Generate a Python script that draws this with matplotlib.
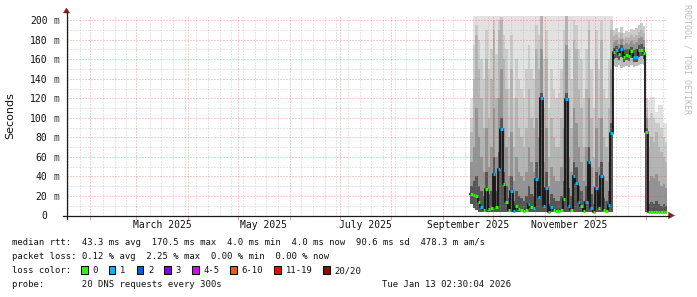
import numpy as np
import matplotlib
matplotlib.use("Agg")
import matplotlib.pyplot as plt
import matplotlib.dates as mdates
import matplotlib.transforms as mtransforms
from matplotlib.lines import Line2D
from matplotlib.patches import Polygon, Rectangle
from datetime import datetime, timedelta

# ---------------- data ----------------
end_time = datetime(2026, 1, 13, 2, 30, 4)
range_days = 360
sample_start = datetime(2025, 9, 17, 12, 0)
step_days = 1.5

median_ms = [22, 21, 20, 14, 8.5, 6, 27, 7, 7.5, 43, 8.5, 48, 89, 32, 14, 6, 25, 5, 10, 7,
             6, 5, 6, 12, 9, 8, 37, 19, 120, 10, 28, 4, 8.5, 6, 5, 5, 6, 17, 119, 10,
             6, 40, 33, 14, 10, 5, 14, 55, 8, 4, 28, 8, 40, 6, 5, 11, 84,
             167, 169, 165.5, 170.5, 162, 164.5, 163, 168, 162, 162, 169, 169.5, 166,
             85, 4, 4, 4, 4, 4, 4, 4, 4]
loss_idx = [0, 0, 0, 0, 1, 0, 0, 0, 0, 1, 0, 1, 1, 0, 0, 0, 1, 1, 0, 0,
            0, 0, 0, 1, 0, 1, 1, 1, 1, 1, 1, 0, 1, 0, 0, 0, 0, 0, 1, 1,
            0, 1, 1, 1, 0, 0, 1, 1, 1, 0, 1, 0, 1, 0, 0, 1, 1,
            0, 1, 0, 1, 0, 0, 0, 0, 1, 1, 0, 0, 0,
            0, 0, 0, 0, 0, 0, 0, 0, 0]
smoke_min = [12, 8, 6] + [3.5] * 54 + \
            [153, 152, 154, 151, 152, 153, 152, 154, 152, 153, 154, 155, 154] + \
            [3.5] + [3.3] * 8
smoke_lo = [12, 8, 6] + [3.5] * 54 + \
           [160, 161, 159, 162, 157, 159, 158, 161, 157, 157, 162, 163, 160] + \
           [3.5] + [3.5] * 8
smoke_d1 = [30, 35, 40, 30, 25, 20, 45, 22, 25, 60, 25, 65, 100, 45, 30, 18, 40, 15, 25, 20,
            18, 15, 20, 30, 22, 20, 55, 35, 125, 25, 45, 12, 22, 18, 15, 15, 20, 35, 125, 28,
            20, 55, 50, 30, 25, 15, 30, 70, 22, 12, 45, 22, 55, 18, 15, 25, 95,
            172, 174, 171, 175, 169, 171, 170, 173, 169, 170, 175, 176, 173,
            90, 12, 14, 12, 15, 12, 10, 12, 10]
smoke_d2 = [55, 70, 110, 80, 60, 45, 90, 50, 70, 110, 60, 120, 150, 90, 70, 40, 85, 35, 60, 45,
            40, 35, 45, 70, 55, 45, 100, 80, 170, 55, 90, 30, 50, 40, 35, 35, 50, 90, 175, 60,
            45, 110, 95, 70, 55, 35, 70, 120, 50, 30, 90, 50, 100, 40, 35, 55, 150,
            178, 180, 176, 181, 175, 177, 176, 179, 176, 178, 182, 183, 180,
            100, 35, 40, 38, 42, 35, 30, 32, 28]
smoke_d3 = [85, 140, 185, 150, 120, 90, 160, 100, 140, 190, 120, 190, 200, 160, 130, 80, 150, 70, 120, 90,
            80, 70, 90, 130, 100, 90, 170, 150, 205, 110, 160, 60, 100, 80, 70, 70, 100, 160, 205, 120,
            90, 180, 170, 130, 110, 70, 130, 190, 100, 60, 160, 100, 180, 80, 70, 110, 190,
            184, 186, 182, 187, 181, 183, 182, 185, 183, 185, 188, 190, 187,
            110, 70, 80, 75, 85, 70, 65, 60, 55]
smoke_d4 = [100, 175, 195, 180, 160, 140, 190, 150, 170, 200, 165, 200, 203, 185, 170, 130, 185, 120, 160, 140,
            130, 120, 150, 175, 150, 140, 195, 185, 205, 160, 190, 110, 150, 130, 120, 125, 150, 190, 205, 170,
            140, 200, 195, 170, 160, 120, 170, 200, 150, 110, 190, 150, 200, 130, 120, 160, 200,
            190, 192, 188, 193, 187, 189, 188, 191, 190, 192, 195, 197, 194,
            120, 100, 105, 100, 95, 95, 90, 80, 75]
smoke_top = [120] + [205] * 56 + \
            [190, 192, 188, 193, 187, 189, 188, 191, 190, 192, 195, 197, 194] + \
            [120, 118, 121, 121, 106, 113, 113, 95, 95]

loss_labels = ["0", "1", "2", "3", "4-5", "6-10", "11-19", "20/20"]
loss_colors = ["#26ff00", "#00b8ff", "#0059ff", "#7e00ff", "#dd00ff", "#ff5500", "#ff0000", "#a10000"]

y_tick_values = [0, 20, 40, 60, 80, 100, 120, 140, 160, 180, 200]
y_tick_labels = ["0", "20 m", "40 m", "60 m", "80 m", "100 m", "120 m", "140 m", "160 m", "180 m", "200 m"]
y_max = 204.8
month_labels = ["March 2025", "May 2025", "July 2025", "September 2025", "November 2025"]
month_label_starts = [datetime(2025, 3, 1), datetime(2025, 5, 1), datetime(2025, 7, 1),
                      datetime(2025, 9, 1), datetime(2025, 11, 1)]

y_label = "Seconds"
legend_rtt = "median rtt:  43.3 ms avg  170.5 ms max  4.0 ms min  4.0 ms now  90.6 ms sd  478.3 m am/s"
legend_loss = "packet loss: 0.12 % avg  2.25 % max  0.00 % min  0.00 % now"
legend_color_title = "loss color:"
legend_probe = "probe:       20 DNS requests every 300s"
timestamp = "Tue Jan 13 02:30:04 2026"
watermark = "RRDTOOL / TOBI OETIKER"

# ---------------- figure ----------------
W, H, DPI = 697, 297, 100
fig = plt.figure(figsize=(W / DPI, H / DPI), dpi=DPI)
fig.patch.set_facecolor("white")

def fx(px):
    return px / W

def fy(py):
    return 1 - py / H

L, R, T, B = 66.5, 666.5, 15.5, 215.5
ax = fig.add_axes([fx(L), fy(B), (R - L) / W, (B - T) / H])
ax.set_facecolor("white")
for s in ax.spines.values():
    s.set_visible(False)

start_time = end_time - timedelta(days=range_days)
ax.set_xlim(mdates.date2num(start_time), mdates.date2num(end_time))
ax.set_ylim(0, y_max)

MONO = "DejaVu Sans Mono"
MGRID = (0.88, 0.30, 0.30, 0.55)
GRID = (0.62, 0.62, 0.62, 0.5)
dot = (0, (1, 2))

# grid - horizontal
for v in range(10, 201, 10):
    ax.axhline(v, color=MGRID if v % 20 == 0 else GRID, lw=0.72, ls=dot, zorder=2)

# grid - vertical: month starts (major) and Sundays (minor)
month_starts = []
d = datetime(start_time.year, start_time.month, 1)
while d <= end_time:
    if d >= start_time:
        month_starts.append(d)
    d = datetime(d.year + (d.month // 12), d.month % 12 + 1, 1)
sunday = datetime(2025, 1, 19)
while sunday <= end_time:
    if sunday >= start_time and all(abs((sunday - m).days) > 1 for m in month_starts):
        ax.axvline(mdates.date2num(sunday), color=GRID, lw=0.72, ls=dot, zorder=2)
    sunday += timedelta(days=7)
for m in month_starts:
    ax.axvline(mdates.date2num(m), color=MGRID, lw=0.72, ls=dot, zorder=2)
    ax.plot([mdates.date2num(m)] * 2, [0, -3 / 200], color=MGRID, lw=0.72,
            transform=ax.get_xaxis_transform(), clip_on=False, zorder=2)

# smoke
n = len(median_ms)
xs = mdates.date2num(sample_start) + step_days * np.arange(n)
xe = np.append(xs, xs[-1] + step_days)

def ext(a):
    a = np.asarray(a, float)
    return np.append(a, a[-1])

layers = [(smoke_min, smoke_lo, "#bcbcbc"),
          (smoke_lo, smoke_d1, "#555555"),
          (smoke_d1, smoke_d2, "#939393"),
          (smoke_d2, smoke_d3, "#b4b4b4"),
          (smoke_d3, smoke_d4, "#cbcbcb"),
          (smoke_d4, smoke_top, "#e2e2e2")]
for lo, hi, c in layers:
    ax.fill_between(xe, ext(lo), ext(hi), step="post", facecolor=c, lw=0,
                    antialiased=False, zorder=1)

# median line
ax.step(xe, ext(median_ms), where="post", color="#151515", lw=1.3, zorder=3)
ax.hlines(median_ms, xs, xs + step_days, colors=[loss_colors[k] for k in loss_idx],
          lw=2.2, zorder=4, capstyle="butt")

# x tick labels (centered in month)
label_pos = []
for m in month_label_starts:
    nxt = datetime(m.year + (m.month // 12), m.month % 12 + 1, 1)
    label_pos.append(mdates.date2num(m) + (mdates.date2num(nxt) - mdates.date2num(m)) / 2)
ax.set_xticks(label_pos)
ax.set_xticklabels(month_labels, fontfamily=MONO, fontsize=7.0, color="#111111")
ax.tick_params(axis="x", length=0, pad=12 * 0.72)
for t in ax.get_xticklabels():
    t.set_va("baseline")
ax.set_yticks([])

# y tick labels
ytr_num = ax.get_yaxis_transform() + mtransforms.ScaledTranslation(-19 / DPI, -3.8 / DPI, fig.dpi_scale_trans)
ytr_unit = ax.get_yaxis_transform() + mtransforms.ScaledTranslation(-13.2 / DPI, -3.8 / DPI, fig.dpi_scale_trans)
for v, lab in zip(y_tick_values, y_tick_labels):
    parts = lab.split(" ")
    ax.text(0, v, parts[0], transform=ytr_num, ha="right", va="baseline",
            fontfamily=MONO, fontsize=7.0, color="#111111", clip_on=False)
    if len(parts) > 1:
        ax.text(0, v, parts[1], transform=ytr_unit, ha="left", va="baseline",
                fontfamily=MONO, fontsize=7.0, color="#333333", clip_on=False)

fig.text(fx(10), fy(115.5), y_label, rotation=90, ha="center", va="center",
         fontfamily="DejaVu Sans", fontsize=8, color="#111111")

# axis lines and arrows
AX_C = "#1a1a1a"
ARROW_C = "#8f1a1a"
fig.add_artist(Line2D([fx(63), fx(669)], [fy(B), fy(B)], color=AX_C, lw=0.9))
fig.add_artist(Line2D([fx(L), fx(L)], [fy(218.5), fy(12)], color=AX_C, lw=0.9))
fig.add_artist(Polygon([[fx(L), fy(8)], [fx(L - 3.2), fy(13)], [fx(L + 3.2), fy(13)]],
                       closed=True, facecolor=ARROW_C, edgecolor=ARROW_C, lw=0.3,
                       transform=fig.transFigure))
fig.add_artist(Polygon([[fx(674.5), fy(B)], [fx(668.5), fy(B - 3.2)], [fx(668.5), fy(B + 3.2)]],
                       closed=True, facecolor=ARROW_C, edgecolor=ARROW_C, lw=0.3,
                       transform=fig.transFigure))

# watermark
fig.text(fx(687.5), fy(4), watermark, rotation=270, ha="center", va="top",
         fontfamily=MONO, fontsize=6.0, color="#bdbdbd")

# legend
LF = 6.4
cw = 5.35
x_left = 12.0
fig.text(fx(x_left), fy(245), legend_rtt, ha="left", va="baseline", fontfamily=MONO, fontsize=LF, color="#111111")
fig.text(fx(x_left), fy(259), legend_loss, ha="left", va="baseline", fontfamily=MONO, fontsize=LF, color="#111111")
fig.text(fx(x_left), fy(273), legend_color_title, ha="left", va="baseline", fontfamily=MONO, fontsize=LF, color="#111111")
bx = 81.0
for lab, col in zip(loss_labels, loss_colors):
    fig.add_artist(Rectangle((fx(bx), fy(274)), 6.5 / W, 8.2 / H, transform=fig.transFigure,
                             facecolor=col, edgecolor="black", lw=0.75))
    tx = bx + 11.4
    fig.text(fx(tx), fy(273), lab, ha="left", va="baseline", fontfamily=MONO, fontsize=LF, color="#111111")
    bx = tx + len(lab) * cw + 11.0
fig.text(fx(x_left), fy(287), legend_probe, ha="left", va="baseline", fontfamily=MONO, fontsize=LF, color="#111111")
fig.text(fx(510.5), fy(287), timestamp, ha="right", va="baseline", fontfamily=MONO, fontsize=LF, color="#111111")

fig.savefig("out.png", dpi=DPI, facecolor="white")
